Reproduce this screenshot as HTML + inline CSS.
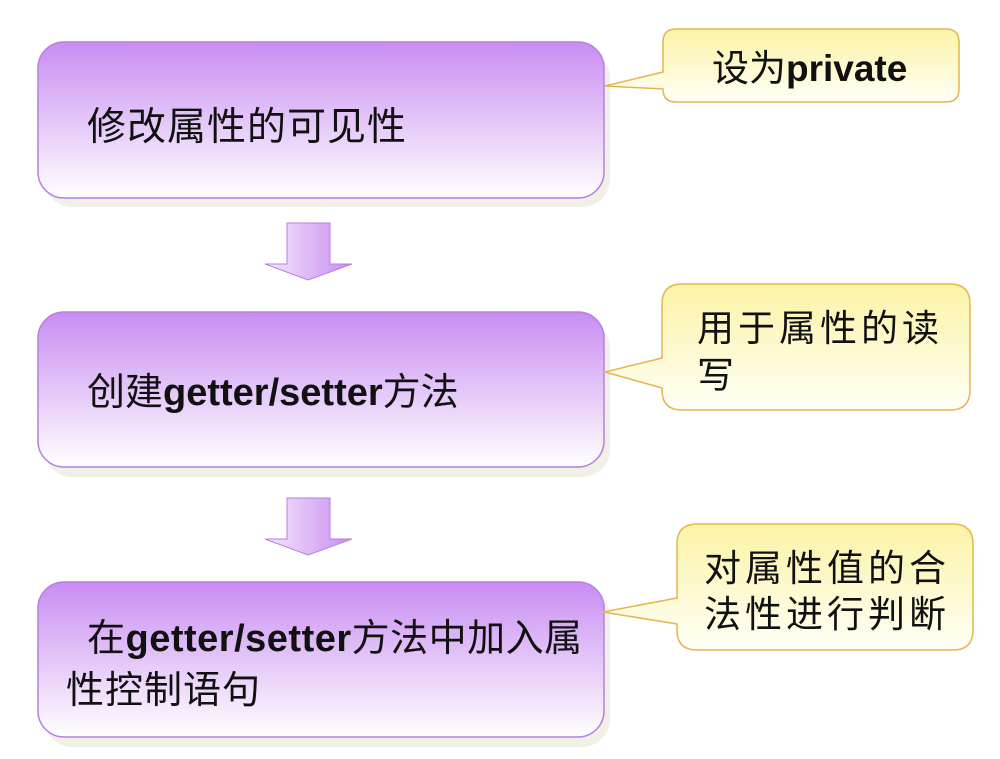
<!DOCTYPE html>
<html><head><meta charset="utf-8"><style>
html,body{margin:0;padding:0;background:#fff;}
svg{display:block;}
text{font-family:"Liberation Sans","Noto Sans CJK SC",sans-serif;fill:#111;}
</style></head><body>
<svg width="1000" height="759" viewBox="0 0 1000 759">
<defs>
<linearGradient id="pg" x1="0" y1="0" x2="0" y2="1">
<stop offset="0" stop-color="#c98cf2"/><stop offset="0.55" stop-color="#e6ccf9"/><stop offset="1" stop-color="#ffffff"/>
</linearGradient>
<linearGradient id="yg" x1="0" y1="0" x2="0" y2="1">
<stop offset="0" stop-color="#fbf3a6"/><stop offset="1" stop-color="#fffff6"/>
</linearGradient>
<linearGradient id="ag" x1="0" y1="0" x2="1" y2="0">
<stop offset="0" stop-color="#f4e8fb"/><stop offset="1" stop-color="#c98cf2"/>
</linearGradient>
</defs>
<rect x="44" y="50" width="566" height="157" rx="28" fill="#f0f0e6"/>
<rect x="44" y="320" width="566" height="157" rx="28" fill="#f0f0e6"/>
<rect x="44" y="590" width="566" height="157" rx="28" fill="#f0f0e6"/>
<rect x="38" y="42" width="566" height="156" rx="26" fill="url(#pg)" stroke="#b77fe0" stroke-width="1.5"/>
<rect x="38" y="312" width="566" height="155" rx="26" fill="url(#pg)" stroke="#b77fe0" stroke-width="1.5"/>
<rect x="38" y="582" width="566" height="155" rx="26" fill="url(#pg)" stroke="#b77fe0" stroke-width="1.5"/>
<text x="87" y="140" font-size="39" letter-spacing="1">修改属性的可见性</text>
<text x="87" y="405" font-size="38">创建<tspan font-weight="bold">getter/setter</tspan>方法</text>
<text x="87" y="651" font-size="38" letter-spacing="0.5">在<tspan font-weight="bold">getter/setter</tspan>方法中加入属</text>
<text x="66" y="703" font-size="38" letter-spacing="1">性控制语句</text>
<path d="M287 223 H330 V264 H352 L308 280 L265 264 H287 Z" fill="url(#ag)" stroke="#b77fe0" stroke-width="1"/>
<path d="M287 498 H330 V539 H352 L308 555 L265 539 H287 Z" fill="url(#ag)" stroke="#b77fe0" stroke-width="1"/>
<path d="M676 29 H946 Q959 29 959 42 V89 Q959 102 946 102 H676 Q663 102 663 89 V89 L605 86 L663 72 V42 Q663 29 676 29 Z" fill="url(#yg)" stroke="#e3b64f" stroke-width="1.5"/>
<text x="712" y="81" font-size="37">设为<tspan font-weight="bold">private</tspan></text>
<path d="M682 284 H950 Q970 284 970 304 V390 Q970 410 950 410 H682 Q662 410 662 390 V388 L605 372 L662 358 V304 Q662 284 682 284 Z" fill="url(#yg)" stroke="#e3b64f" stroke-width="1.5"/>
<text x="697" y="341" font-size="37" letter-spacing="4">用于属性的读</text>
<text x="697" y="388" font-size="37">写</text>
<path d="M697 524 H953 Q973 524 973 544 V630 Q973 650 953 650 H697 Q677 650 677 630 V624 L603 612 L677 598 V544 Q677 524 697 524 Z" fill="url(#yg)" stroke="#e3b64f" stroke-width="1.5"/>
<text x="704" y="581" font-size="37" letter-spacing="4">对属性值的合</text>
<text x="704" y="627" font-size="37" letter-spacing="4">法性进行判断</text>
</svg>
</body></html>
